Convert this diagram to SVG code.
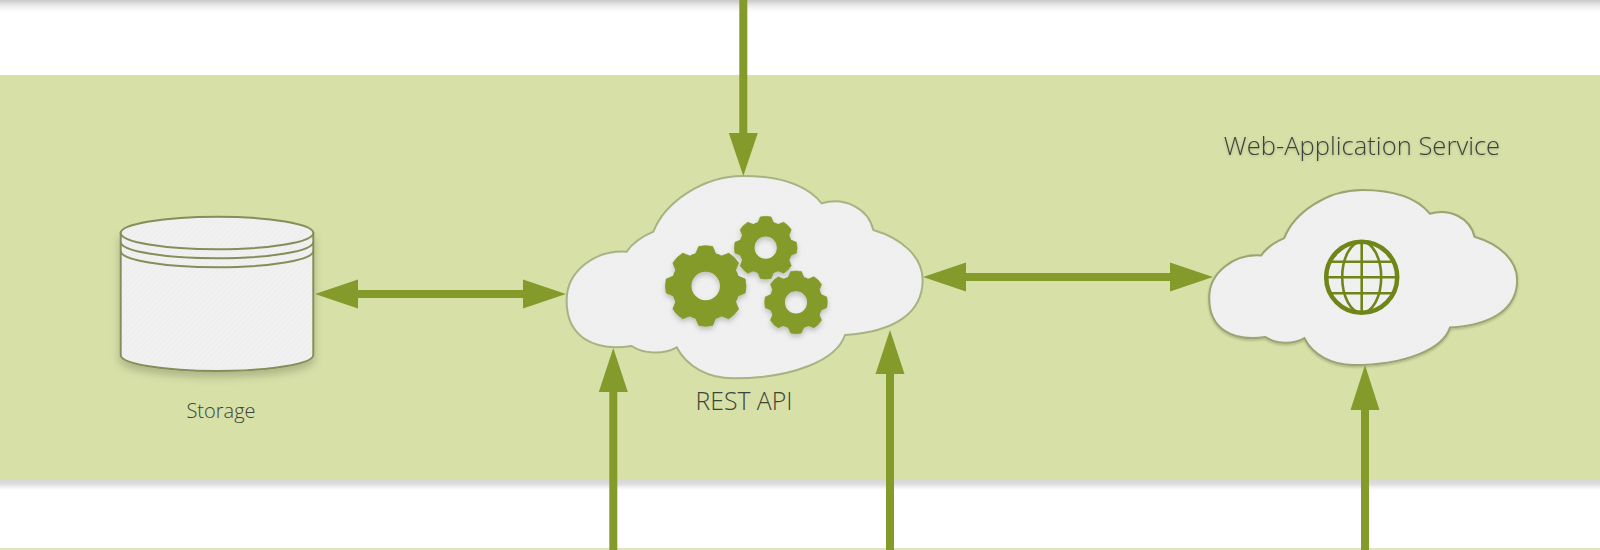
<svg xmlns="http://www.w3.org/2000/svg" width="1600" height="550" viewBox="0 0 1600 550">
<style>
text{font-family:"Open Sans","Noto Sans",sans-serif;font-weight:300;text-anchor:middle;fill:#3e433a}
.shaft{stroke:#849b2c;stroke-width:8;fill:none}
.head{fill:#849b2c}
.gear-ring{fill:none;stroke:#849b2c;stroke-width:49}
.gear-tooth{fill:#849b2c;stroke:#849b2c;stroke-width:2;stroke-linejoin:round}
.disk{fill:url(#hatch);stroke:#858e58;stroke-width:2}
.ring{fill:none;stroke:#858e58;stroke-width:2}
.globe{fill:none;stroke:#6f8518;stroke-width:2.6}
</style>
<defs>
<pattern id="hatch" width="4" height="4" patternUnits="userSpaceOnUse" patternTransform="rotate(45)">
<rect width="4" height="4" fill="#f1f1f1"/><rect width="2" height="4" fill="#eeeeee"/>
</pattern>
<linearGradient id="topShade" x1="0" y1="0" x2="0" y2="1"><stop offset="0" stop-color="#c9c9c9"/><stop offset=".5" stop-color="#ececec"/><stop offset="1" stop-color="#fff"/></linearGradient>
<linearGradient id="botShade" x1="0" y1="0" x2="0" y2="1"><stop offset="0" stop-color="#d6d6d2"/><stop offset=".4" stop-color="#dcdcdc"/><stop offset="1" stop-color="#fff"/></linearGradient>
<filter id="soft" x="-10%" y="-10%" width="120%" height="125%"><feDropShadow dx="0" dy="5" stdDeviation="4" flood-color="#000" flood-opacity=".2"/></filter>
<filter id="gearShadow" x="-20%" y="-20%" width="140%" height="150%"><feDropShadow dx="0" dy="3" stdDeviation="2.5" flood-color="#000" flood-opacity=".2"/></filter>
<filter id="txtShadow" x="-5%" y="-20%" width="110%" height="160%"><feDropShadow dx="0" dy="1" stdDeviation="1.500" flood-color="#000" flood-opacity=".2"/></filter>
<path id="cloud" d="M80,420 C80,335 165,268 260,275 C280,245 310,228 340,215 C375,125 490,48 610,48 C720,48 800,75 845,130 C915,110 985,145 1000,210 C1085,235 1148,290 1148,360 C1148,455 1070,515 915,525 C890,600 760,655 580,655 C505,655 440,620 410,562 C370,585 310,582 275,558 C160,575 78,530 80,420 Z"/>
<g id="gear">
<circle class="gear-ring" r="59.500"/>
<path id="tooth" class="gear-tooth" d="M-25,-78 L-17,-97 Q0,-101 17,-97 L25,-78 Z"/>
<use href="#tooth" transform="rotate(45)"/><use href="#tooth" transform="rotate(90)"/><use href="#tooth" transform="rotate(135)"/>
<use href="#tooth" transform="rotate(180)"/><use href="#tooth" transform="rotate(225)"/><use href="#tooth" transform="rotate(270)"/><use href="#tooth" transform="rotate(315)"/>
</g>
</defs>
<g id="background">
<rect width="1600" height="550" fill="#fff"/>
<rect width="1600" height="12" fill="url(#topShade)"/>
<rect y="75" width="1600" height="404" fill="#d6e0a7"/>
<rect y="479" width="1600" height="11" fill="url(#botShade)"/>
<rect y="548" width="1600" height="2" fill="#dfe6bd"/>
</g>
<g id="storage">
<g filter="url(#soft)">
<path class="disk" d="M120.700,233 V355 A96.300,16 0 0 0 313.300,355 V233 Z"/>
</g>
<ellipse class="disk" cx="217" cy="233" rx="96.300" ry="16.300"/>
<path class="ring" d="M120.700,242 A96.300,16.300 0 0 0 313.300,242"/>
<path class="ring" d="M120.700,251 A96.300,16.300 0 0 0 313.300,251"/>
<text x="221" y="418" font-size="20">Storage</text>
</g>
<g id="rest-api">
<use href="#cloud" transform="translate(540,160) scale(.33333)" fill="url(#hatch)" stroke="#a6b483" stroke-width="6"/>
<g filter="url(#gearShadow)">
<use href="#gear" transform="translate(705.700,286) scale(.407)"/>
<use href="#gear" transform="translate(765.700,247.700) scale(.317)"/>
<use href="#gear" transform="translate(796,302.300) scale(.317)"/>
</g>
<text x="744" y="410" font-size="24.800">REST API</text>
</g>
<g id="web-application-service">
<use href="#cloud" transform="translate(1186.200,176.200) scale(.2883)" fill="url(#hatch)" stroke="#9aa572" stroke-width="7" filter="url(#soft)"/>
<g id="globe">
<circle cx="1361.700" cy="277.300" r="35.500" fill="none" stroke="#6f8518" stroke-width="4.500"/>
<ellipse class="globe" cx="1361.700" cy="277.300" rx="19.500" ry="35.500"/>
<path class="globe" d="M1361.700,242 V313 M1332,261.700 H1391.400 M1326.500,277.300 H1397 M1332,293.300 H1391.400"/>
</g>
<text x="1362" y="155" font-size="25.600" filter="url(#txtShadow)">Web-Application Service</text>
</g>
<g id="connectors">
<path class="shaft" d="M743.300,0 V134"/><path class="head" d="M728.800,133 H757.800 L743.300,176 Z"/>
<path class="shaft" d="M613.300,550 V391"/><path class="head" d="M598.800,392 H627.800 L613.300,348 Z"/>
<path class="shaft" d="M890,550 V373"/><path class="head" d="M875.500,374 H904.500 L890,330 Z"/>
<path class="shaft" d="M1365,550 V409"/><path class="head" d="M1350.500,410 H1379.500 L1365,365 Z"/>
<path class="shaft" d="M357,294 H524"/><path class="head" d="M358,279.500 V308.500 L315,294 Z"/><path class="head" d="M523,279.500 V308.500 L566,294 Z"/>
<path class="shaft" d="M965,277 H1171"/><path class="head" d="M966,262.500 V291.500 L923,277 Z"/><path class="head" d="M1170,262.500 V291.500 L1213,277 Z"/>
</g>
</svg>
